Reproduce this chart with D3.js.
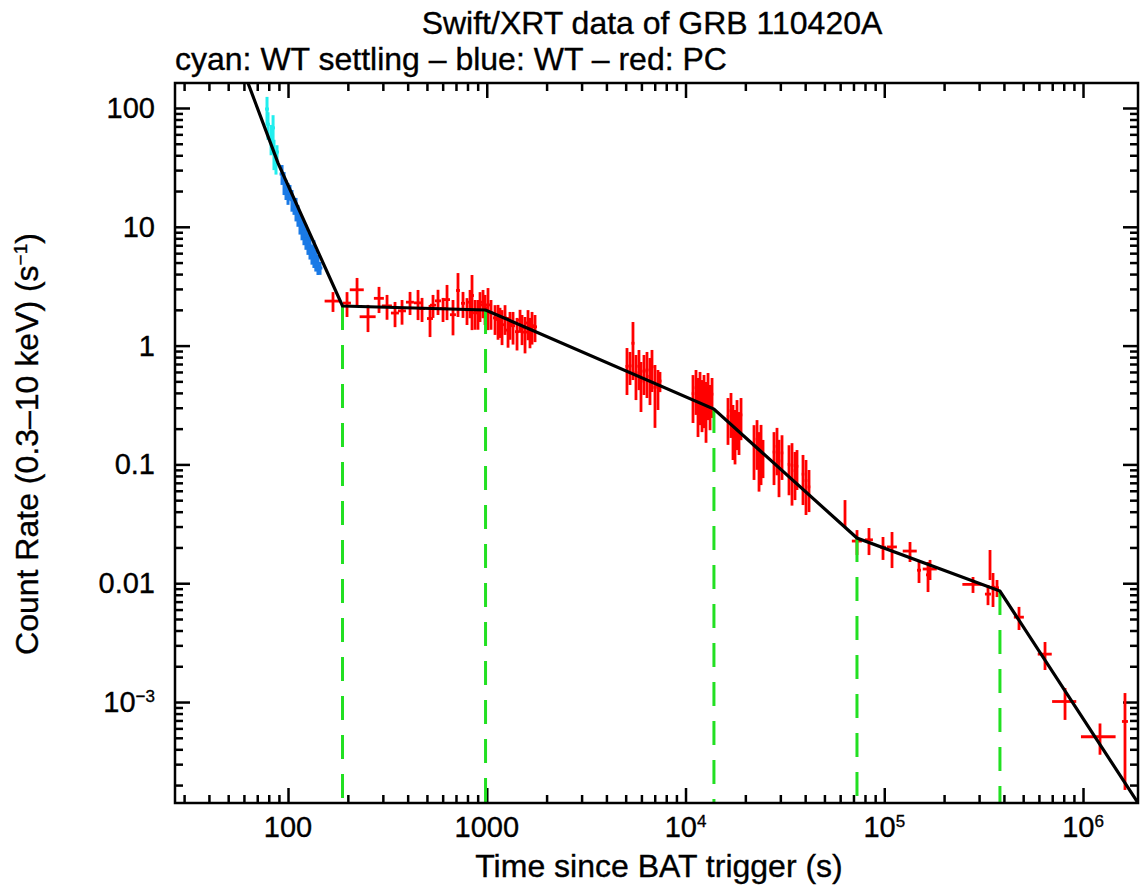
<!DOCTYPE html>
<html>
<head>
<meta charset="utf-8">
<script src="https://cdn.jsdelivr.net/npm/d3@7"></script>
<style>
    body { margin: 0; background: #fff; }
    text { font-family: "Liberation Sans", Arial, Helvetica, sans-serif; fill: #000; stroke: #000; stroke-width: 0.35px; }
</style>
</head>
<body>
<div id="chart"></div>
<script>
//WT settling mode (cyan):
var wtsTime = [78.4, 79.3, 82.2, 84.1, 85.0, 87.0, 88.0];
var wtsTimeErr = [1.8, 1.8, 1.9, 1.9, 2.0, 2.0, 2.0];
var wtsRate = [98, 73, 56, 68, 42, 36, 42.6];
var wtsRateErr = [26, 19, 16, 19, 12, 8.5, 6];

//WT mode (blue):
var wtTime = [93.3, 95.5, 97.7, 100, 102.3, 104.7, 107.2, 109.7, 112.2, 114.9,
    117.6, 120.3, 123.1, 126, 129, 132, 135, 138, 141.5, 144.9];
var wtTimeErr = [2.6, 2.7, 2.7, 2.8, 2.9, 2.9, 3.0, 3.1, 3.1, 3.2,
    3.3, 3.4, 3.4, 3.5, 3.6, 3.7, 3.8, 3.9, 4.0, 4.0];
var wtRate = [27.8, 23.7, 20.8, 19.3, 19.6, 16.9, 14.7, 14.3, 12.6, 10.6,
    9.8, 9.0, 8.4, 7.4, 6.9, 5.9, 6.1, 5.3, 4.86, 4.5];
var wtRateErr = [5.3, 5.2, 4.0, 4.0, 2.9, 3.5, 2.1, 3.2, 2.6, 2.0,
    2.1, 2.0, 2.0, 1.6, 1.6, 1.1, 1.6, 1.1, 0.93, 0.56];

//PC mode (red):
var pcTime = [168.4, 198.1, 222.5, 252.6, 287.0, 314.9, 345.5, 374.7, 411.1, 451.0,
    472.4, 518.2, 536.5, 568.5, 602.5, 631.0, 676.3, 716.6, 759.4, 795.4,
    824, 842.9, 873.1, 903.4, 924.9, 957.6, 980, 1014.6, 1050.5, 1100.5,
    1139.4, 1166, 1193.5, 1235.7, 1279.4, 1309, 1355.7, 1420.0, 1470.2, 1504.7,
    1557.8, 1612.9, 1650, 1689.5, 1749.3,
    5076, 5257, 5441, 5633, 5832, 5970, 6181, 6400, 6626, 6781, 7021, 7269, 7440,
    10906, 11292, 11558, 11830, 12107, 12392, 12683, 12981, 13286, 13597,
    16360, 16937, 17335, 17746, 18159, 18585, 19023,
    22115, 22898, 23436, 23989, 24548,
    27877, 28863, 29540, 30585,
    33170, 34340, 35555, 36390,
    39010, 40390, 41820,
    63460, 72925, 83790, 98560, 109400, 134760, 149570, 166040, 169950,
    279600, 332660, 340480, 352530, 369230, 476430, 643970, 811990, 1217600, 1626500];
var pcTimeErr = [15.6, 9.2, 18, 23.4, 16.6, 18.3, 16, 17.4, 19, 21,
    16.4, 18, 18.7, 19.8, 21, 22, 23.5, 16.6, 17.6, 18.5,
    19, 19.5, 20, 21, 21.5, 22, 22.7, 23.5, 24, 25.5,
    26.4, 27, 27.7, 28.7, 29.7, 30.4, 31.4, 33, 34, 35,
    36, 37.4, 38, 39, 40.6,
    88, 91, 95, 98, 101, 104, 108, 111, 115, 118, 122, 126, 129,
    164, 169, 173, 177, 182, 186, 190, 195, 199, 204,
    245, 254, 260, 266, 272, 279, 285,
    330, 343, 351, 360, 368,
    420, 430, 445, 460,
    500, 515, 530, 545,
    585, 605, 625,
    740, 4230, 3890, 3430, 6350, 10920, 3470, 3850, 13770,
    32430, 11580, 3950, 8180, 8570, 27630, 52160, 112870, 241100, 56600];
var pcRate = [2.37, 2.28, 2.95, 1.75, 2.50, 2.16, 1.88, 1.96, 2.32, 2.29,
    2.05, 1.69, 2.19, 2.38, 2.05, 2.44, 1.82, 2.91, 2.27, 2.00,
    2.32, 2.64, 1.89, 1.89, 2.20, 2.32, 2.08, 2.20, 1.89, 1.71,
    1.66, 1.62, 1.50, 1.71, 1.35, 1.52, 1.47, 1.31, 1.64, 1.41,
    1.30, 1.55, 1.33, 1.47, 1.44,
    0.669, 0.675, 1.047, 0.591, 0.670, 0.502, 0.609, 0.623, 0.551, 0.663, 0.445, 0.455, 0.503,
    0.394, 0.442, 0.352, 0.407, 0.350, 0.384, 0.323, 0.412, 0.330, 0.390,
    0.254, 0.283, 0.2126, 0.1935, 0.240, 0.198, 0.261,
    0.144, 0.163, 0.123, 0.141, 0.1187,
    0.127, 0.142, 0.107, 0.125,
    0.100, 0.098, 0.0887, 0.0965,
    0.0828, 0.0732, 0.0647,
    0.0399, 0.02264, 0.0232, 0.0201, 0.0202, 0.01865, 0.01287, 0.01176, 0.01317,
    0.00978, 0.0081, 0.01484, 0.00925, 0.00915, 0.00518, 0.00253, 0.00101, 0.00051, 0.000686];
var pcRateErr = [0.45, 0.54, 0.76, 0.45, 0.62, 0.51, 0.45, 0.46, 0.51, 0.65,
    0.47, 0.51, 0.48, 0.57, 0.47, 0.80, 0.60, 1.17, 0.56, 0.51,
    0.62, 1.29, 0.53, 0.53, 0.62, 0.62, 0.59, 0.85, 0.53, 0.48,
    0.54, 0.46, 0.49, 0.48, 0.39, 0.40, 0.45, 0.40, 0.36, 0.40,
    0.44, 0.44, 0.38, 0.45, 0.37,
    0.285, 0.209, 0.534, 0.243, 0.248, 0.226, 0.225, 0.261, 0.235, 0.256, 0.242, 0.168, 0.097,
    0.171, 0.181, 0.182, 0.193, 0.163, 0.182, 0.171, 0.176, 0.136, 0.144,
    0.108, 0.116, 0.1037, 0.0935, 0.108, 0.078, 0.101,
    0.070, 0.073, 0.064, 0.074, 0.042,
    0.060, 0.061, 0.054, 0.051,
    0.045, 0.053, 0.0386, 0.0356,
    0.0373, 0.0357, 0.025,
    0.0102, 0.00537, 0.00594, 0.00439, 0.00678, 0.00357, 0.00283, 0.00333, 0.00253,
    0.0015, 0.00156, 0.0042, 0.00294, 0.0015, 0.00114, 0.00067, 0.000303, 0.00015, 0.000504];

//broken power-law fit (vertices) and its breaks:
var modelTime = [55, 89.1, 188, 986, 13900, 72900, 382000, 2.2e6];
var modelRate = [295, 34.4, 2.154, 1.994, 0.292, 0.024, 0.0086, 9.6e-5];
var breakTime = [188, 986, 13900, 72900, 382000];
var breakRate = [2.154, 1.994, 0.292, 0.024, 0.0086];

//axis ticks and labels:
var xMajor = [100, 1000, 1e4, 1e5, 1e6];
var xLabelBase = ["100", "1000", "10", "10", "10"];
var xLabelSup = ["", "", "4", "5", "6"];
var yMajor = [1e-3, 0.01, 0.1, 1, 10, 100];
var yLabelBase = ["10", "0.01", "0.1", "1", "10", "100"];
var yLabelSup = ["\u22123", "", "", "", "", ""];

var titleText = "Swift/XRT data of GRB 110420A";
var subtitleText = "cyan: WT settling \u2013 blue: WT \u2013 red: PC";
var xTitle = "Time since BAT trigger (s)";

var width = 1140, height = 886;
var plotL = 175, plotR = 1138, plotT = 83, plotB = 803;

var svg = d3.select("#chart")
    .append("svg")
    .attr("width", width)
    .attr("height", height);

//scales
var xScale = d3.scaleLog().domain([27.0, 1.891e6]).range([plotL, plotR]);
var yScale = d3.scaleLog().domain([1.413e-4, 162.3]).range([plotB, plotT]);

svg.append("clipPath").attr("id", "plotClip")
    .append("rect")
    .attr("x", plotL).attr("y", plotT)
    .attr("width", plotR - plotL).attr("height", plotB - plotT);

//minor tick values (2..9 per decade)
function minorTicks(lo, hi) {
    var out = [];
    for (var e = -5; e <= 7; e++) {
        for (var m = 2; m < 10; m++) {
            var v = m * Math.pow(10, e);
            if (v > lo && v < hi) out.push(v);
        }
    }
    return out;
}
var xMinor = minorTicks(xScale.domain()[0], xScale.domain()[1]);
var yMinor = minorTicks(yScale.domain()[0], yScale.domain()[1]);

//axis ticks pointing inwards on all four sides
function addAxis(axis, transform) {
    var g = svg.append("g")
        .attr("class", "axis")
        .attr("transform", transform)
        .call(axis);
    g.select(".domain").remove();
    g.selectAll("text").remove();
    g.selectAll("line").attr("stroke", "#000").attr("stroke-width", 2.5);
}
addAxis(d3.axisBottom(xScale).tickValues(xMajor).tickSize(-15), "translate(0," + plotB + ")");
addAxis(d3.axisBottom(xScale).tickValues(xMinor).tickSize(-8), "translate(0," + plotB + ")");
addAxis(d3.axisTop(xScale).tickValues(xMajor).tickSize(-15), "translate(0," + plotT + ")");
addAxis(d3.axisTop(xScale).tickValues(xMinor).tickSize(-8), "translate(0," + plotT + ")");
addAxis(d3.axisLeft(yScale).tickValues(yMajor).tickSize(-15), "translate(" + plotL + ",0)");
addAxis(d3.axisLeft(yScale).tickValues(yMinor).tickSize(-8), "translate(" + plotL + ",0)");
addAxis(d3.axisRight(yScale).tickValues(yMajor).tickSize(-15), "translate(" + plotR + ",0)");
addAxis(d3.axisRight(yScale).tickValues(yMinor).tickSize(-8), "translate(" + plotR + ",0)");

//tick labels
xMajor.forEach(function (v, i) {
    var t = svg.append("text")
        .attr("x", xScale(v))
        .attr("y", plotB + 34)
        .attr("text-anchor", "middle")
        .style("font-size", "29px")
        .text(xLabelBase[i]);
    if (xLabelSup[i]) {
        t.append("tspan").attr("dy", -10).style("font-size", "17px").text(xLabelSup[i]);
    }
});
yMajor.forEach(function (v, i) {
    var t = svg.append("text")
        .attr("x", 155)
        .attr("y", yScale(v) + 10)
        .attr("text-anchor", "end")
        .style("font-size", "29px")
        .text(yLabelBase[i]);
    if (yLabelSup[i]) {
        t.append("tspan").attr("dy", -10).style("font-size", "17px").text(yLabelSup[i]);
    }
});

//data with error bars
var dataLayer = svg.append("g").attr("clip-path", "url(#plotClip)");

function drawSeries(times, timeErrs, rates, rateErrs, color, lw) {
    var yMin = yScale.domain()[0];
    var pts = times.map(function (t, i) {
        return {t: t, te: timeErrs[i], r: rates[i], re: rateErrs[i]};
    });
    var g = dataLayer.append("g")
        .attr("stroke", color)
        .attr("stroke-width", lw);
    g.selectAll(".ey").data(pts).enter().append("line")
        .attr("class", "ey")
        .attr("x1", function (d) { return xScale(d.t); })
        .attr("x2", function (d) { return xScale(d.t); })
        .attr("y1", function (d) { return yScale(d.r + d.re); })
        .attr("y2", function (d) { return yScale(Math.max(d.r - d.re, yMin * 0.5)); });
    g.selectAll(".ex").data(pts).enter().append("line")
        .attr("class", "ex")
        .attr("x1", function (d) { return xScale(d.t - d.te); })
        .attr("x2", function (d) { return xScale(d.t + d.te); })
        .attr("y1", function (d) { return yScale(d.r); })
        .attr("y2", function (d) { return yScale(d.r); });
}
drawSeries(wtsTime, wtsTimeErr, wtsRate, wtsRateErr, "#22eeee", 3);
drawSeries(wtTime, wtTimeErr, wtRate, wtRateErr, "#1a7ae6", 3);
drawSeries(pcTime, pcTimeErr, pcRate, pcRateErr, "#ff0000", 2.8);

//green dashed lines at the breaks
dataLayer.selectAll(".brk").data(breakTime).enter().append("line")
    .attr("class", "brk")
    .attr("x1", function (d) { return xScale(d); })
    .attr("x2", function (d) { return xScale(d); })
    .attr("y1", function (d, i) { return yScale(breakRate[i]); })
    .attr("y2", plotB)
    .attr("stroke", "#22e022")
    .attr("stroke-width", 3)
    .attr("stroke-dasharray", "24,15");

//fitted model
var lineSegment = d3.line()
    .x(function (d) { return xScale(d[0]); })
    .y(function (d) { return yScale(d[1]); });
dataLayer.append("path")
    .datum(modelTime.map(function (t, i) { return [t, modelRate[i]]; }))
    .attr("d", lineSegment)
    .attr("fill", "none")
    .attr("stroke", "#000")
    .attr("stroke-width", 3.2);

//frame
svg.append("rect")
    .attr("x", plotL).attr("y", plotT)
    .attr("width", plotR - plotL).attr("height", plotB - plotT)
    .attr("fill", "none")
    .attr("stroke", "#000")
    .attr("stroke-width", 2.5);

//titles
svg.append("text")
    .attr("x", 652).attr("y", 34)
    .attr("text-anchor", "middle")
    .style("font-size", "32px")
    .text(titleText);
svg.append("text")
    .attr("x", 175).attr("y", 70)
    .style("font-size", "32px")
    .text(subtitleText);
svg.append("text")
    .attr("x", 659).attr("y", 877)
    .attr("text-anchor", "middle")
    .style("font-size", "32px")
    .text(xTitle);

var yTitle = svg.append("text")
    .attr("transform", "translate(38,444) rotate(-90)")
    .attr("text-anchor", "middle")
    .style("font-size", "32px")
    .text("Count Rate (0.3\u201310 keV) (s");
yTitle.append("tspan").attr("dy", -11).style("font-size", "19px").text("\u22121");
yTitle.append("tspan").attr("dy", 11).text(")");
</script>
</body>
</html>
